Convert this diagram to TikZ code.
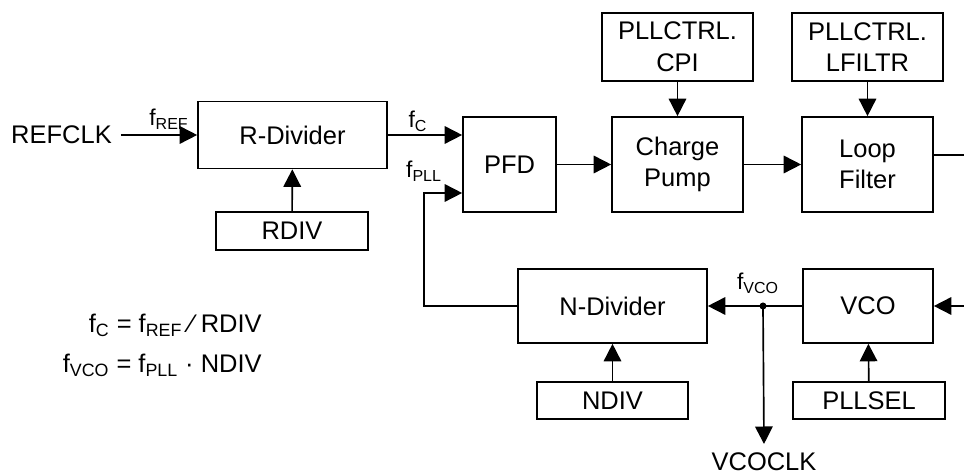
\documentclass[tikz,border=0pt]{standalone}
\usepackage{fontspec}
\setmainfont{Liberation Sans}
\usetikzlibrary{arrows.meta, positioning}

\begin{document}
\begin{tikzpicture}[x=0.02cm, y=-0.02cm,
    block/.style={draw, line width=0.95pt, align=center, inner sep=0pt,
        font=\fontsize{14.5}{18}\selectfont},
    regbox/.style={block, minimum width=3.03cm},
    txt/.style={font=\fontsize{14.5}{18}\selectfont},
    lbl/.style={font=\fontsize{13}{15}\selectfont, inner sep=0pt},
    sig/.style={line width=0.95pt, -{Triangle[length=0.35cm, width=0.35cm]}},
    wire/.style={line width=0.95pt}]
    \useasboundingbox (0,0) rectangle (964,475);

    % upper row
    \node[txt, inner sep=5pt] (refclk) at (61.5,135) {REFCLK};
    \node[block, minimum width=3.78cm, minimum height=1.34cm] (rdivider) at (292.5,135) {R-Divider};
    \node[regbox, minimum height=0.76cm] (rdivreg) at (292,231) {RDIV};
    \node[block, minimum width=1.86cm, minimum height=1.9cm] (pfd) at (509.5,164.5) {PFD};
    \node[block, minimum width=2.62cm, minimum height=1.9cm] (cpump) at (677.5,164.5) {Charge\\Pump};
    \node[regbox, minimum height=1.36cm] (cpireg) at (677.5,47) {PLLCTRL.\\CPI};
    \node[block, minimum width=2.62cm, minimum height=1.9cm] (lfilter) at (867.5,164.5) {Loop\\Filter};
    \node[regbox, minimum height=1.36cm] (lfreg) at (867.5,47) {PLLCTRL.\\LFILTR};

    % lower row
    \node[block, minimum width=3.78cm, minimum height=1.48cm] (ndivider) at (612.5,306) {N-Divider};
    \node[regbox, minimum height=0.74cm] (ndivreg) at (612.5,400.5) {NDIV};
    \node[block, minimum width=2.6cm, minimum height=1.48cm] (vco) at (868,306) {VCO};
    \node[regbox, minimum height=0.74cm] (pllsel) at (869,400.5) {PLLSEL};
    \node[txt, anchor=north, inner sep=4.5pt] (vcoclk) at (764,444) {VCOCLK};

    \coordinate (tap) at (763,306);
    \coordinate (fbturn) at (424,193);
    \coordinate (lfout) at (964,155);
    \coordinate (vcoin) at (964,306);

    % signal labels
    \node[lbl] (frefl) at (169,119) {f\textsubscript{REF}};
    \node[lbl] (fcl) at (418,121) {f\textsubscript{C}};
    \node[lbl] (fplll) at (424,171) {f\textsubscript{PLL}};
    \node[lbl] (fvcol) at (758,283) {f\textsubscript{VCO}};

    % equations
    \node[txt, anchor=base east, inner sep=0pt] (eqc) at (262,333) {f\textsubscript{C} = f\textsubscript{REF} ⁄ RDIV};
    \node[txt, anchor=base east, inner sep=0pt] (eqvco) at (262,373) {f\textsubscript{VCO} = f\textsubscript{PLL} · NDIV};

    % connections
    \draw[sig] (refclk) -- (rdivider);
    \draw[sig] (rdivreg) -- (rdivider);
    \draw[sig] (rdivider.east) -- (rdivider.east -| pfd.west);
    \draw[sig] (ndivider.west) -| (fbturn) -- (fbturn -| pfd.west);
    \draw[sig] (pfd) -- (cpump);
    \draw[sig] (cpireg) -- (cpump);
    \draw[sig] (cpump) -- (lfilter);
    \draw[sig] (lfreg) -- (lfilter);
    \draw[wire] (lfout -| lfilter.east) -- (lfout);
    \draw[sig] (vcoin) -- (vco.east);
    \draw[sig] (vco.west) -- (ndivider.east);
    \fill (tap) circle (3.5);
    \draw[sig] (tap) -- (vcoclk.north);
    \draw[sig] (ndivreg) -- (ndivider);
    \draw[sig] (pllsel) -- (vco);
\end{tikzpicture}
\end{document}
